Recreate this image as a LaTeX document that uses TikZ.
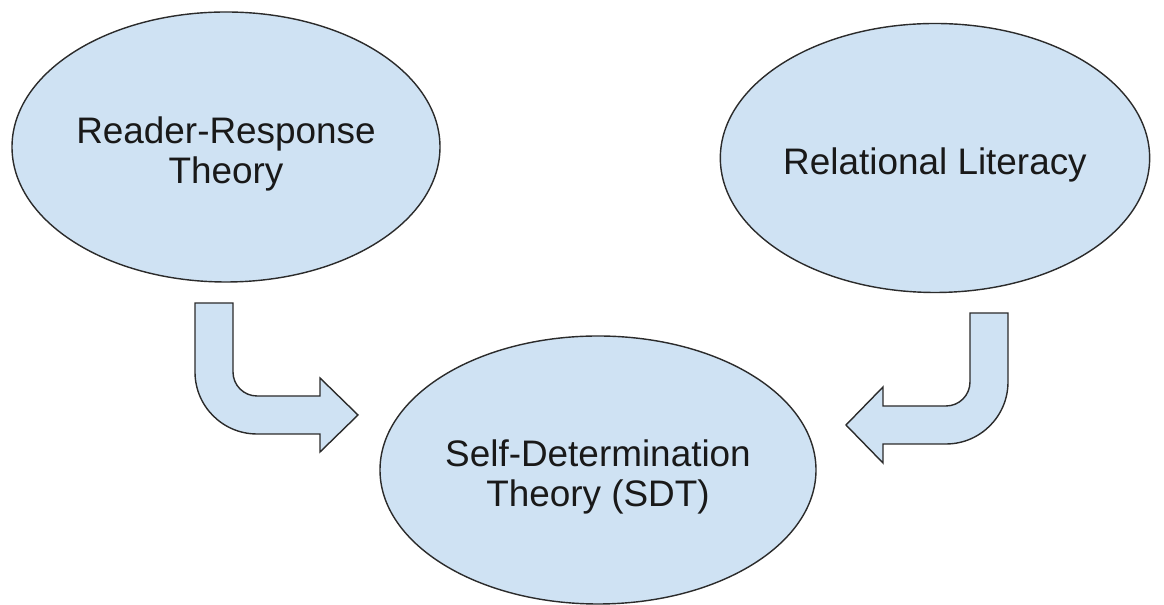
\documentclass[tikz,border=0pt]{standalone}
\usepackage{fontspec}
\setmainfont{Liberation Sans}
\usetikzlibrary{shapes.geometric}

\definecolor{lightblue}{HTML}{CFE2F3}
\definecolor{edgegray}{HTML}{2B2B2B}

\begin{document}
\begin{tikzpicture}[
    theory/.style={ellipse, draw=edgegray, line width=0.8pt, fill=lightblue, inner sep=0pt,
        align=center, text height=0.8cm, font=\fontsize{21}{22.8}\selectfont, text=black!90},
    twoline/.style={text height=1.6cm},
    bent/.style={draw=edgegray, line width=0.8pt, fill=lightblue, line join=miter}
]
\useasboundingbox (0,0) rectangle (23.28,12.10);

% Theories
\node[theory, twoline, minimum width=8.56cm, minimum height=5.4cm] (rrt) at (4.52, 9.16) {Reader-Response\\Theory};
\node[theory, minimum width=8.48cm, minimum height=5.38cm] (rl) at (18.70, 8.94) {Relational Literacy};
\node[theory, twoline, minimum width=8.72cm, minimum height=5.36cm] (sdt) at (11.96, 2.70) {Self-Determination\\Theory (SDT)};

% Bent arrow, left
\draw[bent] (3.90,6.04) -- (4.66,6.04) -- (4.66,4.66) arc (180:270:0.48) -- (6.40,4.18)
    -- (6.40,4.54) -- (7.16,3.80) -- (6.40,3.06) -- (6.40,3.42) -- (5.14,3.42)
    arc (270:180:1.24) -- cycle;

% Bent arrow, right
\draw[bent] (20.16,5.84) -- (19.40,5.84) -- (19.40,4.46) arc (0:-90:0.48) -- (17.66,3.98)
    -- (17.66,4.36) -- (16.92,3.60) -- (17.66,2.84) -- (17.66,3.22) -- (18.92,3.22)
    arc (270:360:1.24) -- cycle;

\end{tikzpicture}
\end{document}
